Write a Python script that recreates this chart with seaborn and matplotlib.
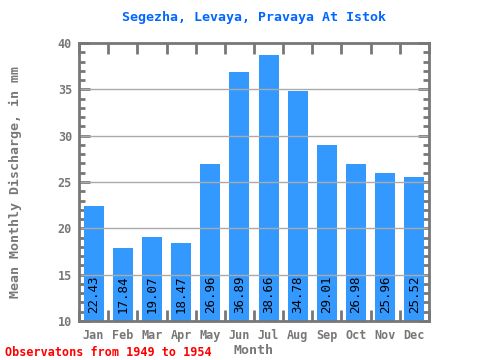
import matplotlib
matplotlib.use("Agg")
import matplotlib.pyplot as plt
import seaborn as sns
import numpy as np
import pandas as pd

months = ["Jan", "Feb", "Mar", "Apr", "May", "Jun", "Jul", "Aug", "Sep", "Oct", "Nov", "Dec"]
values = [22.43, 17.84, 19.07, 18.47, 26.96, 36.89, 38.66, 34.78, 29.01, 26.98, 25.96, 25.52]
yticks = [10, 15, 20, 25, 30, 35, 40]

sns.set_style("white")
plt.rcParams['font.family'] = ['DejaVu Sans Mono', 'DejaVu Sans']

df = pd.DataFrame({"Month": months, "Value": values})

fig = plt.figure(figsize=(4.8, 3.6), dpi=100)
ax = fig.add_axes([79/480, 1-321/360, 350/480, 278/360])

sns.barplot(data=df, x="Month", y="Value", color="#3399ff", width=0.69,
            saturation=1, ax=ax, zorder=2, edgecolor="none", linewidth=0)

for y in yticks[1:-1]:
    ax.axhline(y, color="#aaaaaa", lw=1, zorder=2.5)

ax.set_ylim(10, 40)
ax.set_xlim(-0.5, 11.5)

gray = "#777777"
for s in ax.spines.values():
    s.set_color(gray)
    s.set_linewidth(2)

ax.set_yticks(yticks)
ax.set_yticks(np.arange(10, 41, 1), minor=True)
ax.set_xticks(np.arange(-0.5, 12, 1), minor=True)
ax.tick_params(axis='x', which='major', length=0, pad=6, labelsize=8.5, labelcolor=gray)
ax.tick_params(axis='x', which='minor', direction='in', top=True, bottom=True, length=8, width=2, color=gray)
ax.tick_params(axis='y', which='major', direction='in', left=True, right=True, length=8, width=2, color=gray, labelsize=8.5, labelcolor=gray, pad=5)
ax.tick_params(axis='y', which='minor', direction='in', left=True, right=True, length=4, width=2, color=gray)
for lbl in ax.get_xticklabels() + ax.get_yticklabels():
    lbl.set_fontweight('bold')

for i, v in enumerate(values):
    ax.text(i, 10.9, f"{v:.2f}", rotation=90, ha='center', va='bottom',
            fontsize=9, color='black', zorder=3)

ax.set_xlabel("Month", fontsize=9.5, color=gray, fontweight='bold', labelpad=1)
ax.set_ylabel("Mean Monthly Discharge, in mm", fontsize=9.5, color=gray, fontweight='bold', labelpad=26)
ax.set_title("Segezha, Levaya, Pravaya At Istok", fontsize=9.5, color="#0066ff", fontweight='bold', pad=16)

fig.text(5/480, 1-352/360, "Observatons from 1949 to 1954", color="red", fontsize=8.5,
         fontweight='bold', ha='left', va='center')

fig.savefig("out.png", dpi=100)
